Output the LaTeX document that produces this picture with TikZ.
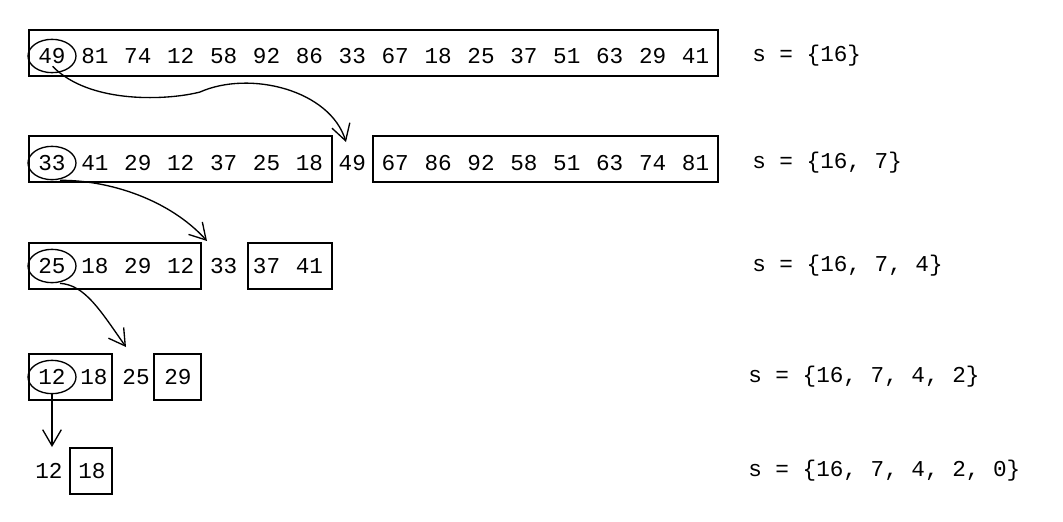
\documentclass[tikz,border=0pt]{standalone}
\usepackage{fontspec}
\setmonofont{Liberation Mono}
\usetikzlibrary{shapes.geometric,arrows.meta}
\begin{document}
\begin{tikzpicture}
  [
    x=0.75pt, y=-0.75pt,
    num/.style = {inner sep=0pt, font=\ttfamily\fontsize{17}{20}\selectfont},
    lbl/.style = {num, anchor=west},
    part/.style = {draw, line width=1.2pt},
    pivot/.style = {draw, ellipse, line width=1pt, minimum width=36pt, minimum height=25pt, inner sep=0pt},
    step arrow/.style = {-{Straight Barb[length=12pt, width=14pt]}, line width=1pt}
  ]
  \useasboundingbox (0,0) rectangle (1063,521);

  % row 1
  \foreach \v [count=\i from 0] in {49,81,74,12,58,92,86,33,67,18,25,37,51,63,29,41}
    \node [num] (a\i) at (52+42.9*\i, 56) {\v};
  \draw [part] (29,30) rectangle (718,76);
  \node [pivot] (pa) at (a0) {};
  \node [lbl] (sa) at (752,56) {s = \{16\}};

  % row 2
  \foreach \v [count=\i from 0] in {33,41,29,12,37,25,18,49,67,86,92,58,51,63,74,81}
    \node [num] (b\i) at (52+42.9*\i, 163) {\v};
  \draw [part] (29,136) rectangle (332,182);
  \draw [part] (373,136) rectangle (718,182);
  \node [pivot] (pb) at (b0) {};
  \node [lbl] (sb) at (752,163) {s = \{16, 7\}};

  % row 3
  \foreach \v [count=\i from 0] in {25,18,29,12,33,37,41}
    \node [num] (c\i) at (52+42.9*\i, 266) {\v};
  \draw [part] (29,243) rectangle (201,289);
  \draw [part] (248,243) rectangle (332,289);
  \node [pivot] (pc) at (c0) {};
  \node [lbl] (sc) at (752,266) {s = \{16, 7, 4\}};

  % row 4
  \foreach \v [count=\i from 0] in {12,18,25,29}
    \node [num] (d\i) at (52+42*\i, 377) {\v};
  \draw [part] (29,354) rectangle (112,400);
  \draw [part] (154,354) rectangle (201,400);
  \node [pivot] (pd) at (d0) {};
  \node [lbl] (sd) at (748,377) {s = \{16, 7, 4, 2\}};

  % row 5
  \node [num] (e0) at (49,471) {12};
  \node [num] (e1) at (92,471) {18};
  \draw [part] (70,448) rectangle (112,494);
  \node [lbl] (se) at (748,471) {s = \{16, 7, 4, 2, 0\}};

  % arrows
  \coordinate (ta) at (346,142);
  \coordinate (tb) at (207,241);
  \coordinate (tc) at (126,347);
  \coordinate (td) at (52,447);
  \draw [step arrow] (pa.south west) ++(18,-2) .. controls (90,105) and (170,100) .. (200,92)
    .. controls (250,70) and (330,90) .. (ta);
  \draw [step arrow] (pb.south) ++(8,0) .. controls (110,180) and (170,200) .. (tb);
  \draw [step arrow] (pc.south) ++(8,0) .. controls (85,285) and (100,310) .. (tc);
  \draw [step arrow] (pd.south) -- (td);
\end{tikzpicture}
\end{document}
